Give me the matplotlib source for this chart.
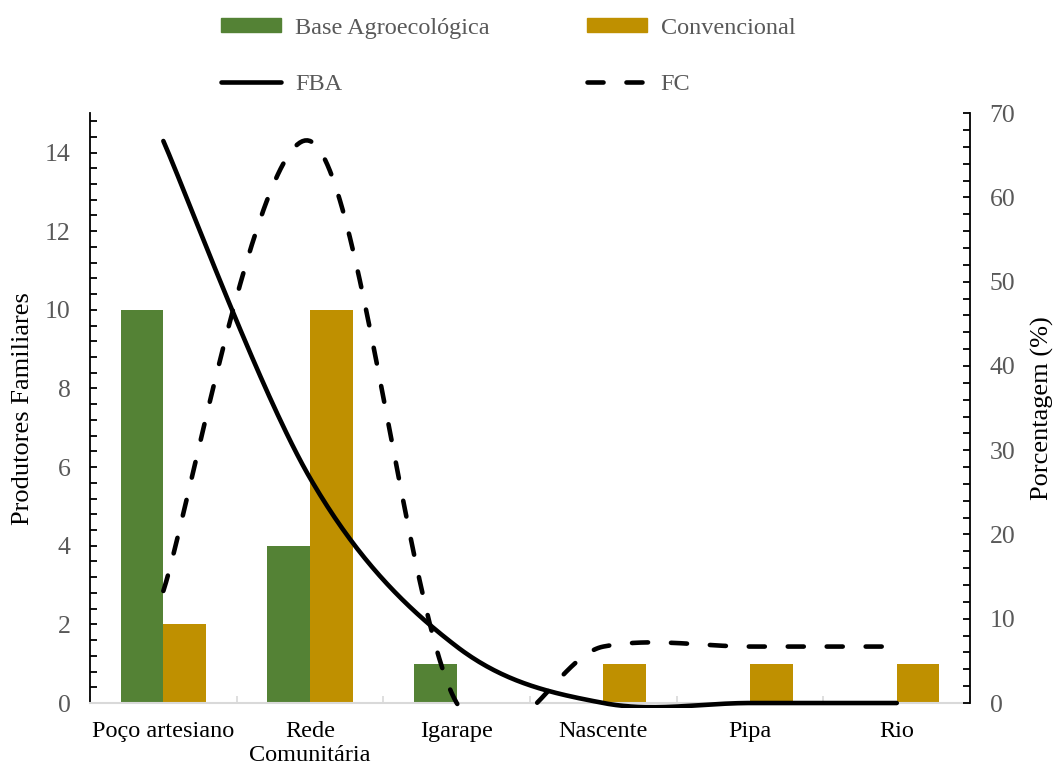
import numpy as np
import matplotlib.pyplot as plt
from matplotlib.patches import Patch, Rectangle
from matplotlib.lines import Line2D
from matplotlib.ticker import MultipleLocator

plt.rcParams['font.family'] = ['Liberation Serif', 'DejaVu Serif']
plt.rcParams['font.size'] = 17.5

# Fontes de água usadas pelos produtores
categorias = ['Poço artesiano', 'Rede\nComunitária', 'Igarape', 'Nascente', 'Pipa', 'Rio']
base_agro = [10, 4, 1, 0, 0, 0]
convencional = [2, 10, 0, 1, 1, 1]
# frequência relativa (%) de cada grupo
fba = [66.7, 26.7, 6.7, 0.0, 0.0, 0.0]
fc = [13.3, 66.7, 0.0, 6.7, 6.7, 6.7]

verde = '#548235'
dourado = '#BF9000'
cinza = '#595959'
lw = 3.3
tracos = (3.5, 5.0)


def suavizar(xs, ys, n=60):
    # curva de Bezier do tipo Catmull-Rom passando pelos pontos
    p = np.column_stack([xs, ys]).astype(float)
    p_ext = np.vstack([p[0], p, p[-1]])
    t = np.linspace(0, 1, n)[:, None]
    pts = []
    for i in range(len(p) - 1):
        p0, p1, p2, p3 = p_ext[i], p_ext[i + 1], p_ext[i + 2], p_ext[i + 3]
        c1 = p1 + (p2 - p0) / 6
        c2 = p2 - (p3 - p1) / 6
        seg = ((1 - t) ** 3) * p1 + 3 * ((1 - t) ** 2) * t * c1 + 3 * (1 - t) * t ** 2 * c2 + t ** 3 * p2
        pts.append(seg if i == 0 else seg[1:])
    pts = np.vstack(pts)
    return pts[:, 0], pts[:, 1]


fig = plt.figure(figsize=(10.54, 7.69), dpi=100)
ax = fig.add_axes([0.0854, 0.0858, 0.835, 0.767])
x = np.arange(len(categorias))
w = 0.29
ax.bar(x - w / 2, base_agro, w, color=verde, zorder=2)
ax.bar(x + w / 2, convencional, w, color=dourado, zorder=2)

ax.set_xlim(-0.5, len(categorias) - 0.5)
ax.set_ylim(0, 15)
ax.yaxis.set_major_locator(MultipleLocator(2))
ax.yaxis.set_minor_locator(MultipleLocator(0.4))
ax.set_xticks(x)
ax.set_xticklabels(categorias)
ax.set_xticks(np.arange(-0.5, len(categorias)), minor=True)
ax.tick_params(axis='x', which='major', length=0, pad=13, colors='black')
ax.tick_params(axis='x', which='minor', direction='in', length=5, width=1.2, color='#D9D9D9')
ax.tick_params(axis='y', which='both', direction='in', length=5, width=1.3, labelcolor=cinza,
               labelsize=18.5, pad=14)
ax.set_ylabel('Produtores Familiares', fontsize=19, labelpad=8)

for s in ['top', 'right']:
    ax.spines[s].set_visible(False)
ax.spines['bottom'].set_color('#D9D9D9')
ax.spines['bottom'].set_linewidth(1.5)
ax.spines['left'].set_linewidth(1.3)

ax2 = ax.twinx()
ax2.set_ylim(0, 70)
ax2.yaxis.set_major_locator(MultipleLocator(10))
ax2.yaxis.set_minor_locator(MultipleLocator(2))
ax2.tick_params(axis='y', which='both', direction='in', length=5, width=1.3, labelcolor=cinza,
                labelsize=18.5, pad=14)
ax2.set_ylabel('Porcentagem (%)', fontsize=19, labelpad=11)
for s in ['top', 'left', 'bottom']:
    ax2.spines[s].set_visible(False)
ax2.spines['right'].set_linewidth(1.3)

# área de recorte um pouco abaixo do eixo, para a linha em zero aparecer inteira
recorte = Rectangle((0, -0.008), 1, 1.008, transform=ax2.transAxes, visible=False)
ax2.add_patch(recorte)

xs, ys = suavizar(x, fba)
l1, = ax2.plot(xs, ys, color='black', lw=lw, solid_capstyle='round')
xs, ys = suavizar(x, fc)
l2, = ax2.plot(xs, ys, color='black', lw=lw, dashes=tracos, dash_capstyle='round')
l1.set_clip_path(recorte)
l2.set_clip_path(recorte)

handles = [
    Patch(color=verde, label='Base Agroecológica'),
    Line2D([], [], color='black', lw=lw, solid_capstyle='round', label='FBA'),
    Patch(color=dourado, label='Convencional'),
    Line2D([], [], color='black', lw=lw, dashes=tracos, dash_capstyle='round', label='FC'),
]
leg = fig.legend(handles=handles, ncol=2, loc='upper center', bbox_to_anchor=(0.482, 1.005),
                 frameon=False, handlelength=2.5, handleheight=0.5, handletextpad=0.55,
                 labelspacing=1.45, columnspacing=4.0)
for t in leg.get_texts():
    t.set_color(cinza)

fig.savefig('out.png', dpi=100)
